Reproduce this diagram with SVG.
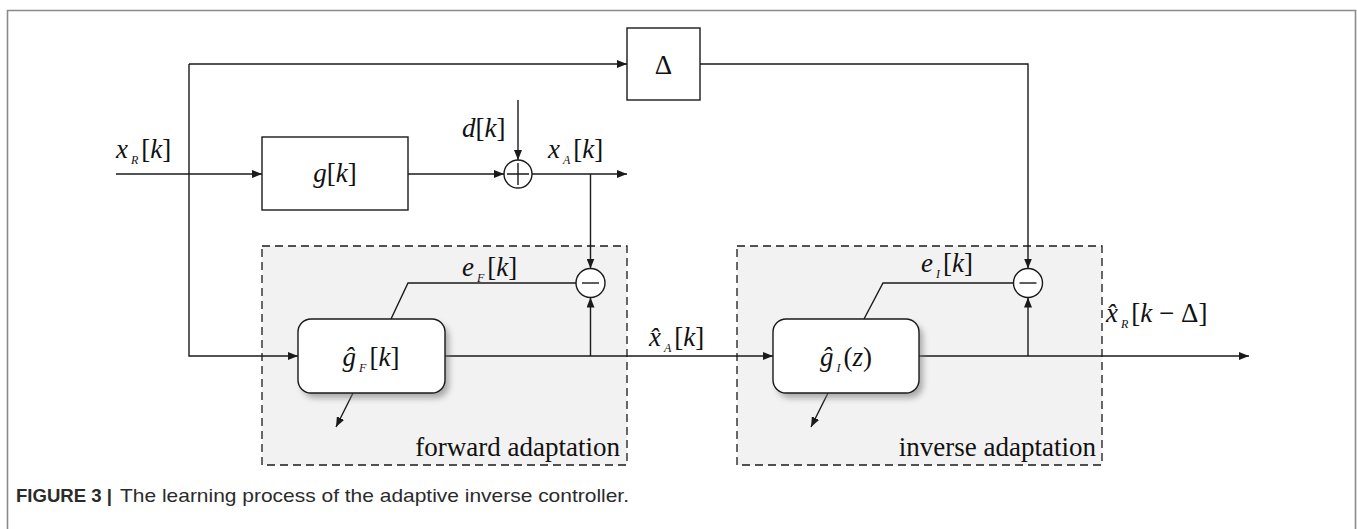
<svg xmlns="http://www.w3.org/2000/svg" width="1357" height="529" viewBox="0 0 1357 529">
  <style>
    .ln { fill: none; stroke: #1a1a1a; stroke-width: 1.4; }
    .arr { marker-end: url(#ah); }
    .blk { fill: #ffffff; stroke: #1a1a1a; stroke-width: 1.4; }
    .sum { fill: #ffffff; stroke: #1a1a1a; stroke-width: 1.4; }
    .grp { fill: #f2f2f2; stroke: #1a1a1a; stroke-width: 1.3; stroke-dasharray: 8 5; }
    .m { font-family: "Liberation Serif", "DejaVu Serif", serif; font-size: 27px; fill: #111; }
    .v { font-style: italic; }
    .sb { font-style: italic; font-size: 12px; }
    .lbl { font-family: "Liberation Serif", "DejaVu Serif", serif; font-size: 27px; fill: #111; }
    .cap { font-family: "Liberation Sans", Arial, sans-serif; font-size: 19px; fill: #2b2b2b; }
  </style>
  <defs>
    <marker id="ah" markerWidth="10" markerHeight="8" refX="10" refY="4" orient="auto" markerUnits="userSpaceOnUse">
      <path d="M0,0 L10,4 L0,8 Z" fill="#1a1a1a"/>
    </marker>
    <filter id="shadow" x="-20%" y="-20%" width="140%" height="150%">
      <feGaussianBlur stdDeviation="3"/>
    </filter>
  </defs>

  <rect width="1357" height="529" fill="#ffffff"/>

  <!-- figure frame (open at the bottom) -->
  <path d="M7.5,529 V10.5 H1355.5 V529" fill="none" stroke="#8a8a8a" stroke-width="1.6"/>

  <!-- adaptation regions -->
  <g id="forward-adaptation">
    <rect class="grp" x="262" y="246" width="365" height="219"/>
    <text class="lbl" x="620" y="456" text-anchor="end">forward adaptation</text>
  </g>
  <g id="inverse-adaptation">
    <rect class="grp" x="737" y="246" width="365" height="219"/>
    <text class="lbl" x="1096" y="456" text-anchor="end">inverse adaptation</text>
  </g>

  <!-- connectors -->
  <g id="connectors">
    <path class="ln arr" d="M116,174 H262"/>
    <path class="ln arr" d="M189,64 V356 H298"/>
    <path class="ln arr" d="M189,64 H627"/>
    <path class="ln arr" d="M408,174 H504"/>
    <path class="ln arr" d="M518,100 V160"/>
    <path class="ln arr" d="M532,174 H627"/>
    <path class="ln arr" d="M590.5,174 V268.5"/>
    <path class="ln arr" d="M700,64 H1028 V268.5"/>
    <path class="ln arr" d="M445,356 H773"/>
    <path class="ln arr" d="M590.5,356 V297.5"/>
    <path class="ln" d="M391,319 L408,283 H576"/>
    <path class="ln arr" d="M353,393 L336,427"/>
    <path class="ln arr" d="M919,356 H1249"/>
    <path class="ln arr" d="M1028,356 V297.5"/>
    <path class="ln" d="M864,319 L883,283 H1013.5"/>
    <path class="ln arr" d="M828,393 L811,427"/>
  </g>

  <!-- signal labels -->
  <g id="label-xR">
    <text class="m" x="116" y="158"><tspan class="v">x</tspan><tspan class="sb" dx="3" dy="6">R</tspan><tspan dx="3" dy="-6">[</tspan><tspan class="v">k</tspan>]</text>
  </g>
  <g id="label-d">
    <text class="m" x="462" y="137"><tspan class="v">d</tspan>[<tspan class="v">k</tspan>]</text>
  </g>
  <g id="label-xA">
    <text class="m" x="548" y="158"><tspan class="v">x</tspan><tspan class="sb" dx="3" dy="6">A</tspan><tspan dx="3" dy="-6">[</tspan><tspan class="v">k</tspan>]</text>
  </g>
  <g id="label-eF">
    <text class="m" x="462" y="276"><tspan class="v">e</tspan><tspan class="sb" dx="3" dy="6">F</tspan><tspan dx="3" dy="-6">[</tspan><tspan class="v">k</tspan>]</text>
  </g>
  <g id="label-xhatA">
    <text class="m" x="649" y="346"><tspan class="v">x̂</tspan><tspan class="sb" dx="3" dy="6">A</tspan><tspan dx="3" dy="-6">[</tspan><tspan class="v">k</tspan>]</text>
  </g>
  <g id="label-eI">
    <text class="m" x="921" y="272"><tspan class="v">e</tspan><tspan class="sb" dx="3" dy="6">I</tspan><tspan dx="3" dy="-6">[</tspan><tspan class="v">k</tspan>]</text>
  </g>
  <g id="label-xhatR">
    <text class="m" x="1106" y="322"><tspan class="v">x̂</tspan><tspan class="sb" dx="3" dy="6">R</tspan><tspan dx="3" dy="-6">[</tspan><tspan class="v">k</tspan> − Δ]</text>
  </g>

  <!-- plant -->
  <g id="node-g">
    <rect class="blk" x="262" y="137" width="146" height="73"/>
    <text class="m" x="335" y="182" text-anchor="middle"><tspan class="v">g</tspan>[<tspan class="v">k</tspan>]</text>
  </g>

  <!-- delay -->
  <g id="node-delta">
    <rect class="blk" x="627" y="28" width="73" height="72"/>
    <text class="m" x="663.5" y="74" text-anchor="middle">Δ</text>
  </g>

  <!-- disturbance summing junction -->
  <g id="node-plus">
    <circle class="sum" cx="518" cy="174" r="14"/>
    <path class="ln" d="M507,174 H529 M518,163 V185"/>
  </g>

  <!-- error junctions -->
  <g id="node-minus-forward">
    <circle class="sum" cx="590.5" cy="283" r="14.5"/>
    <path class="ln" d="M582,283 H599"/>
  </g>
  <g id="node-minus-inverse">
    <circle class="sum" cx="1028" cy="283" r="14.5"/>
    <path class="ln" d="M1019.5,283 H1036.5"/>
  </g>

  <!-- adaptive filters -->
  <g id="node-gF">
    <rect x="302" y="324" width="147" height="74" rx="13" fill="#777" opacity="0.6" filter="url(#shadow)"/>
    <rect class="blk" x="298" y="319" width="147" height="74" rx="13"/>
    <text class="m" x="371" y="366" text-anchor="middle"><tspan class="v">ĝ</tspan><tspan class="sb" dx="3" dy="6">F</tspan><tspan dx="3" dy="-6">[</tspan><tspan class="v">k</tspan>]</text>
  </g>
  <g id="node-gI">
    <rect x="777" y="324" width="146" height="74" rx="13" fill="#777" opacity="0.6" filter="url(#shadow)"/>
    <rect class="blk" x="773" y="319" width="146" height="74" rx="13"/>
    <text class="m" x="846" y="366" text-anchor="middle"><tspan class="v">ĝ</tspan><tspan class="sb" dx="3" dy="6">I</tspan><tspan dx="3" dy="-6">(</tspan><tspan class="v">z</tspan>)</text>
  </g>

  <!-- caption -->
  <g id="caption">
    <text class="cap" x="16" y="502" font-weight="bold" textLength="96" lengthAdjust="spacingAndGlyphs">FIGURE 3 |</text>
    <text class="cap" x="120" y="502" textLength="509" lengthAdjust="spacingAndGlyphs">The learning process of the adaptive inverse controller.</text>
  </g>
</svg>
